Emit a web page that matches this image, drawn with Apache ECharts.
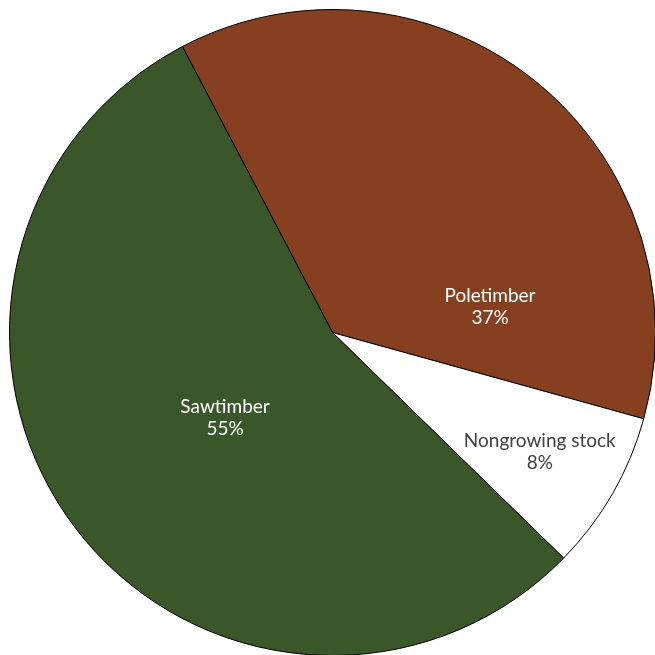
<!DOCTYPE html>
<html>
<head>
<meta charset="utf-8">
<script src="https://cdn.jsdelivr.net/npm/echarts@6/dist/echarts.min.js"></script>
<style>
  html, body { margin: 0; padding: 0; background: #ffffff; }
  #chart { width: 655px; height: 655px; }
</style>
</head>
<body>
<div id="chart"></div>
<script>
// Stocking classes, clockwise from the upper-left boundary
const categories = ['Poletimber', 'Nongrowing stock', 'Sawtimber'];
const shares = [37, 8, 55];
const sliceColors = ['#863f1f', '#ffffff', '#3a5729'];
const labelColors = ['#ffffff', '#404040', '#ffffff'];
// Label placement inside each slice: angle clockwise from 12 o'clock (deg) and fraction of radius
const labelAngles = [80.8, 120, 231.5];
const labelRadii = [0.494, 0.741, 0.425];

const cx = 332.5, cy = 332.5, radius = 323;

const chart = echarts.init(document.getElementById('chart'), null, { renderer: 'canvas' });

chart.setOption({
  animation: false,
  backgroundColor: '#ffffff',
  series: [{
    type: 'pie',
    center: [cx, cy],
    radius: [0, radius],
    startAngle: 117.7,
    clockwise: true,
    avoidLabelOverlap: false,
    itemStyle: { borderColor: '#000000', borderWidth: 1 },
    emphasis: { disabled: true },
    label: {
      show: true,
      position: 'inside',
      fontFamily: 'Lato, "Open Sans", sans-serif',
      fontSize: 19,
      lineHeight: 22,
      align: 'center',
      formatter: p => p.name + '\n' + p.value + '%'
    },
    labelLine: { show: false },
    labelLayout: function (params) {
      const i = params.dataIndex;
      const a = labelAngles[i] * Math.PI / 180;
      const r = labelRadii[i] * radius;
      return {
        x: cx + r * Math.sin(a),
        y: cy - r * Math.cos(a),
        align: 'center',
        verticalAlign: 'middle'
      };
    },
    data: categories.map((name, i) => ({
      name: name,
      value: shares[i],
      itemStyle: { color: sliceColors[i] },
      label: { color: labelColors[i] }
    }))
  }]
});
</script>
</body>
</html>
